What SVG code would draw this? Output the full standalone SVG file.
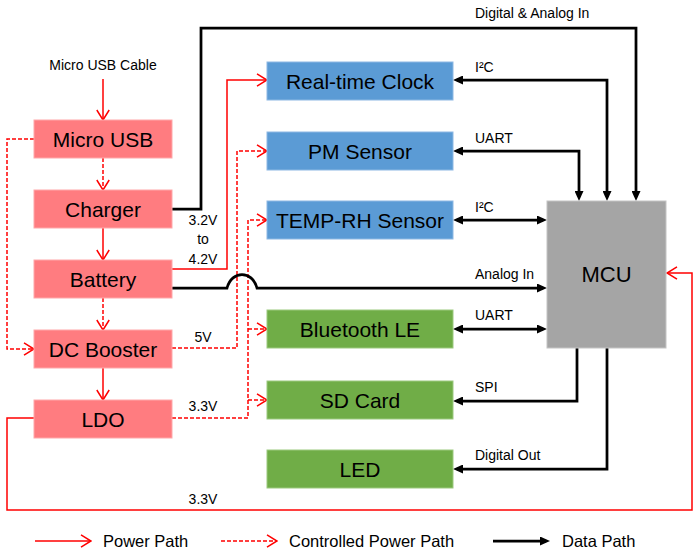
<svg xmlns="http://www.w3.org/2000/svg" width="698" height="552" viewBox="0 0 698 552">
<style>
.box{stroke-width:1}
.pw{fill:#FF7C80;stroke:#FFA8AA}
.bl{fill:#5B9BD5;stroke:#8DB8E3}
.gr{fill:#70AD47;stroke:#9BC97F}
.mc{fill:#A5A5A5;stroke:#C4C4C4}
.t{font-family:"Liberation Sans",Arial,sans-serif;font-size:21px;fill:#000;text-anchor:middle}
.s{font-family:"Liberation Sans",Arial,sans-serif;font-size:14px;fill:#000}
.lg{font-family:"Liberation Sans",Arial,sans-serif;font-size:16.5px;fill:#000}
.red{fill:none;stroke:#FF0000;stroke-width:1.5;marker-end:url(#ra)}
.rd{fill:none;stroke:#FF0000;stroke-width:1.5;stroke-dasharray:4 2;marker-end:url(#ra)}
.blk{fill:none;stroke:#000;stroke-width:2.75;marker-end:url(#ba)}
.blk2{fill:none;stroke:#000;stroke-width:2.75;marker-end:url(#ba);marker-start:url(#ba)}
</style>
<defs>
<marker id="ra" markerUnits="userSpaceOnUse" viewBox="0 0 12 14" refX="11" refY="7" markerWidth="12" markerHeight="14" orient="auto">
<path d="M1,0.8 L11,7 L1,13.2" fill="none" stroke="#FF0000" stroke-width="1.5"/>
</marker>
<marker id="ba" markerUnits="userSpaceOnUse" viewBox="0 0 10 9" refX="6" refY="4.5" markerWidth="10" markerHeight="9" orient="auto-start-reverse">
<path d="M0,0 L10,4.5 L0,9 z" fill="#000"/>
</marker>
</defs>

<g id="connectors">
<path class="red" d="M103,79 L103,120"/>
<path class="red" d="M103,228 L103,260"/>
<path class="red" d="M103,368 L103,400"/>
<path class="red" d="M172,269 L227,269 L227,80 L267,80"/>
<path class="red" d="M34,418 L7,418 L7,510 L692,510 L692,273 L667,273"/>
<path class="rd" d="M103,158 L103,190"/>
<path class="rd" d="M103,298 L103,330"/>
<path class="rd" d="M34,139 L7,139 L7,349 L34,349"/>
<path class="rd" d="M172,348 L237,348 L237,151 L267,151"/>
<path class="rd" d="M172,418 L248,418 L248,220 L267,220"/>
<path class="rd" d="M248,329 L267,329"/>
<path class="rd" d="M248,400 L267,400"/>
<path class="blk" d="M172,209 L201,209 L201,28 L636,28 L636,197"/>
<path class="blk2" d="M607,197 L607,80 L457,80"/>
<path class="blk2" d="M579,197 L579,151 L457,151"/>
<path class="blk2" d="M457,220 L543,220"/>
<path class="blk" d="M172,288 L227,288 C232,270 252,270 257,288 L543,288"/>
<path class="blk2" d="M457,329 L543,329"/>
<path class="blk" d="M577,348 L577,401 L457,401"/>
<path class="blk" d="M607,348 L607,469 L457,469"/>
</g>

<g id="labels">
<text class="s" x="103" y="70" text-anchor="middle">Micro USB Cable</text>
<text class="s" x="475" y="18">Digital &amp; Analog In</text>
<text class="s" x="475" y="72">I²C</text>
<text class="s" x="475" y="143">UART</text>
<text class="s" x="475" y="212">I²C</text>
<text class="s" x="475" y="279">Analog In</text>
<text class="s" x="475" y="320">UART</text>
<text class="s" x="475" y="392">SPI</text>
<text class="s" x="475" y="460">Digital Out</text>
<text class="s" x="203" y="225" text-anchor="middle">3.2V</text>
<text class="s" x="203" y="244" text-anchor="middle">to</text>
<text class="s" x="203" y="264" text-anchor="middle">4.2V</text>
<text class="s" x="203" y="342" text-anchor="middle">5V</text>
<text class="s" x="203" y="411" text-anchor="middle">3.3V</text>
<text class="s" x="203" y="504" text-anchor="middle">3.3V</text>
</g>

<g id="micro-usb"><rect class="box pw" x="34" y="120" width="138" height="38"/><text class="t" x="103" y="146.5">Micro USB</text></g>
<g id="charger"><rect class="box pw" x="34" y="190" width="138" height="38"/><text class="t" x="103" y="216.5">Charger</text></g>
<g id="battery"><rect class="box pw" x="34" y="260" width="138" height="38"/><text class="t" x="103" y="286.5">Battery</text></g>
<g id="dc-booster"><rect class="box pw" x="34" y="330" width="138" height="38"/><text class="t" x="103" y="356.5">DC Booster</text></g>
<g id="ldo"><rect class="box pw" x="34" y="400" width="138" height="38"/><text class="t" x="103" y="426.5">LDO</text></g>

<g id="rtc"><rect class="box bl" x="267" y="62" width="186" height="38"/><text class="t" x="360" y="88.5">Real-time Clock</text></g>
<g id="pm-sensor"><rect class="box bl" x="267" y="132" width="186" height="38"/><text class="t" x="360" y="158.5">PM Sensor</text></g>
<g id="temp-rh"><rect class="box bl" x="267" y="201" width="186" height="38"/><text class="t" x="360" y="227.5">TEMP-RH Sensor</text></g>
<g id="bluetooth"><rect class="box gr" x="267" y="310" width="186" height="38"/><text class="t" x="360" y="336.5">Bluetooth LE</text></g>
<g id="sd-card"><rect class="box gr" x="267" y="381" width="186" height="38"/><text class="t" x="360" y="407.5">SD Card</text></g>
<g id="led"><rect class="box gr" x="267" y="450" width="186" height="38"/><text class="t" x="360" y="476.5">LED</text></g>

<g id="mcu"><rect class="box mc" x="547" y="201" width="119" height="147"/><text class="t" x="606.5" y="282" style="font-size:22px">MCU</text></g>

<g id="legend">
<path class="red" d="M35,541 L91,541"/>
<text class="lg" x="103" y="547">Power Path</text>
<path class="rd" d="M221,541 L277,541"/>
<text class="lg" x="289" y="547">Controlled Power Path</text>
<path class="blk" d="M493,541 L546,541"/>
<text class="lg" x="562" y="547">Data Path</text>
</g>
</svg>
